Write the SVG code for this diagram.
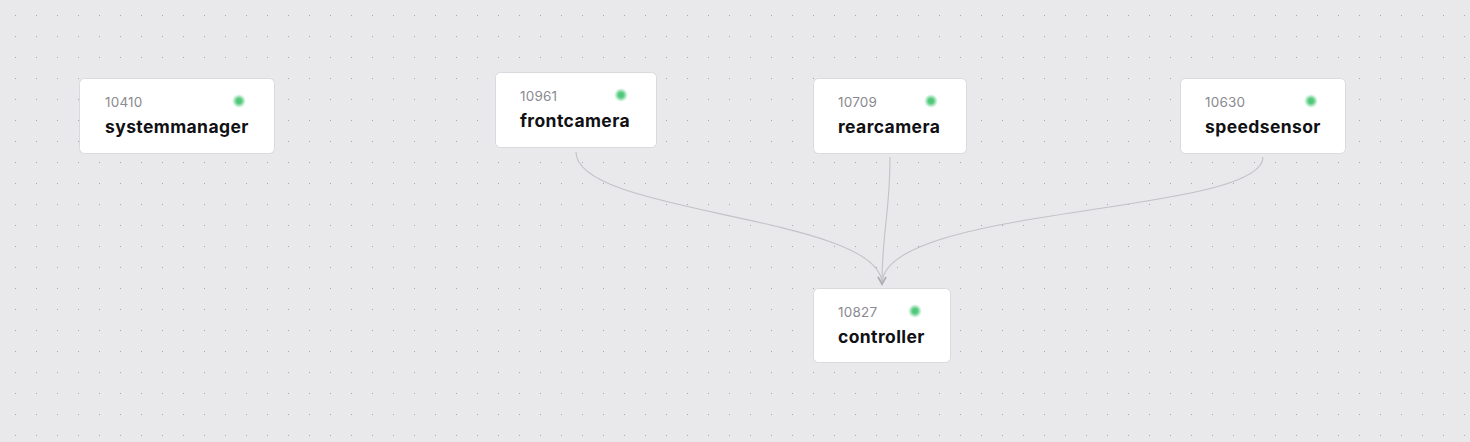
<svg xmlns="http://www.w3.org/2000/svg" width="1470" height="442" viewBox="0 0 1470 442">
<defs>
<pattern id="grid" x="15" y="15" width="21" height="21" patternUnits="userSpaceOnUse">
<rect x="-0.8" y="-0.8" width="1.6" height="1.6" fill="#7e7e85"/>
</pattern>
<radialGradient id="glow">
<stop offset="0" stop-color="#48c474"/>
<stop offset="0.4" stop-color="#5ccc84"/>
<stop offset="1" stop-color="#7fd99e" stop-opacity="0"/>
</radialGradient>
<marker id="arr" viewBox="0 0 10 10" refX="8" refY="5" markerWidth="10" markerHeight="10" markerUnits="userSpaceOnUse" orient="auto">
<path d="M1,1 L8,5 L1,9" fill="none" stroke="#b0b0b6" stroke-width="1.4"/>
</marker>
</defs>
<style>
.card{fill:#ffffff;stroke:#d9d9de;stroke-width:1}
.id{font-family:Inter,"Liberation Sans",sans-serif;font-size:13.5px;letter-spacing:0.2px;fill:#8a8a90}
.name{font-family:Inter,"Liberation Sans",sans-serif;font-size:17.5px;letter-spacing:0.4px;font-weight:700;fill:#111114}
.edge{fill:none;stroke:#c2c2c7;stroke-width:1.1}
</style>
<rect width="1470" height="442" fill="#e9e9ec"/>
<rect width="1470" height="442" fill="url(#grid)"/>
<g id="connectors">
<path class="edge" d="M576,152 C576,215 882,215 882,284" marker-end="url(#arr)"/>
<path class="edge" d="M890,157 C890,215 882,230 882,284" marker-end="url(#arr)"/>
<path class="edge" d="M1263,157 C1263,215 882,205 882,284" marker-end="url(#arr)"/>
</g>
<g id="systemmanager">
<rect class="card" x="79.5" y="78.5" width="195" height="75" rx="5"/>
<text class="id" x="105" y="107">10410</text>
<text class="name" x="105" y="133">systemmanager</text>
<circle cx="239" cy="101" r="7" fill="url(#glow)"/>
</g>
<g id="frontcamera">
<rect class="card" x="495.5" y="72.5" width="161" height="75" rx="5"/>
<text class="id" x="520" y="101">10961</text>
<text class="name" x="520" y="127">frontcamera</text>
<circle cx="621" cy="95" r="7" fill="url(#glow)"/>
</g>
<g id="rearcamera">
<rect class="card" x="813.5" y="78.5" width="153" height="75" rx="5"/>
<text class="id" x="838" y="107">10709</text>
<text class="name" x="838" y="133">rearcamera</text>
<circle cx="931" cy="101" r="7" fill="url(#glow)"/>
</g>
<g id="speedsensor">
<rect class="card" x="1180.5" y="78.5" width="165" height="75" rx="5"/>
<text class="id" x="1205" y="107">10630</text>
<text class="name" x="1205" y="133">speedsensor</text>
<circle cx="1311" cy="101" r="7" fill="url(#glow)"/>
</g>
<g id="controller">
<rect class="card" x="813.5" y="288.5" width="137" height="74" rx="5"/>
<text class="id" x="838" y="317">10827</text>
<text class="name" x="838" y="343">controller</text>
<circle cx="915" cy="311" r="7" fill="url(#glow)"/>
</g>
</svg>
